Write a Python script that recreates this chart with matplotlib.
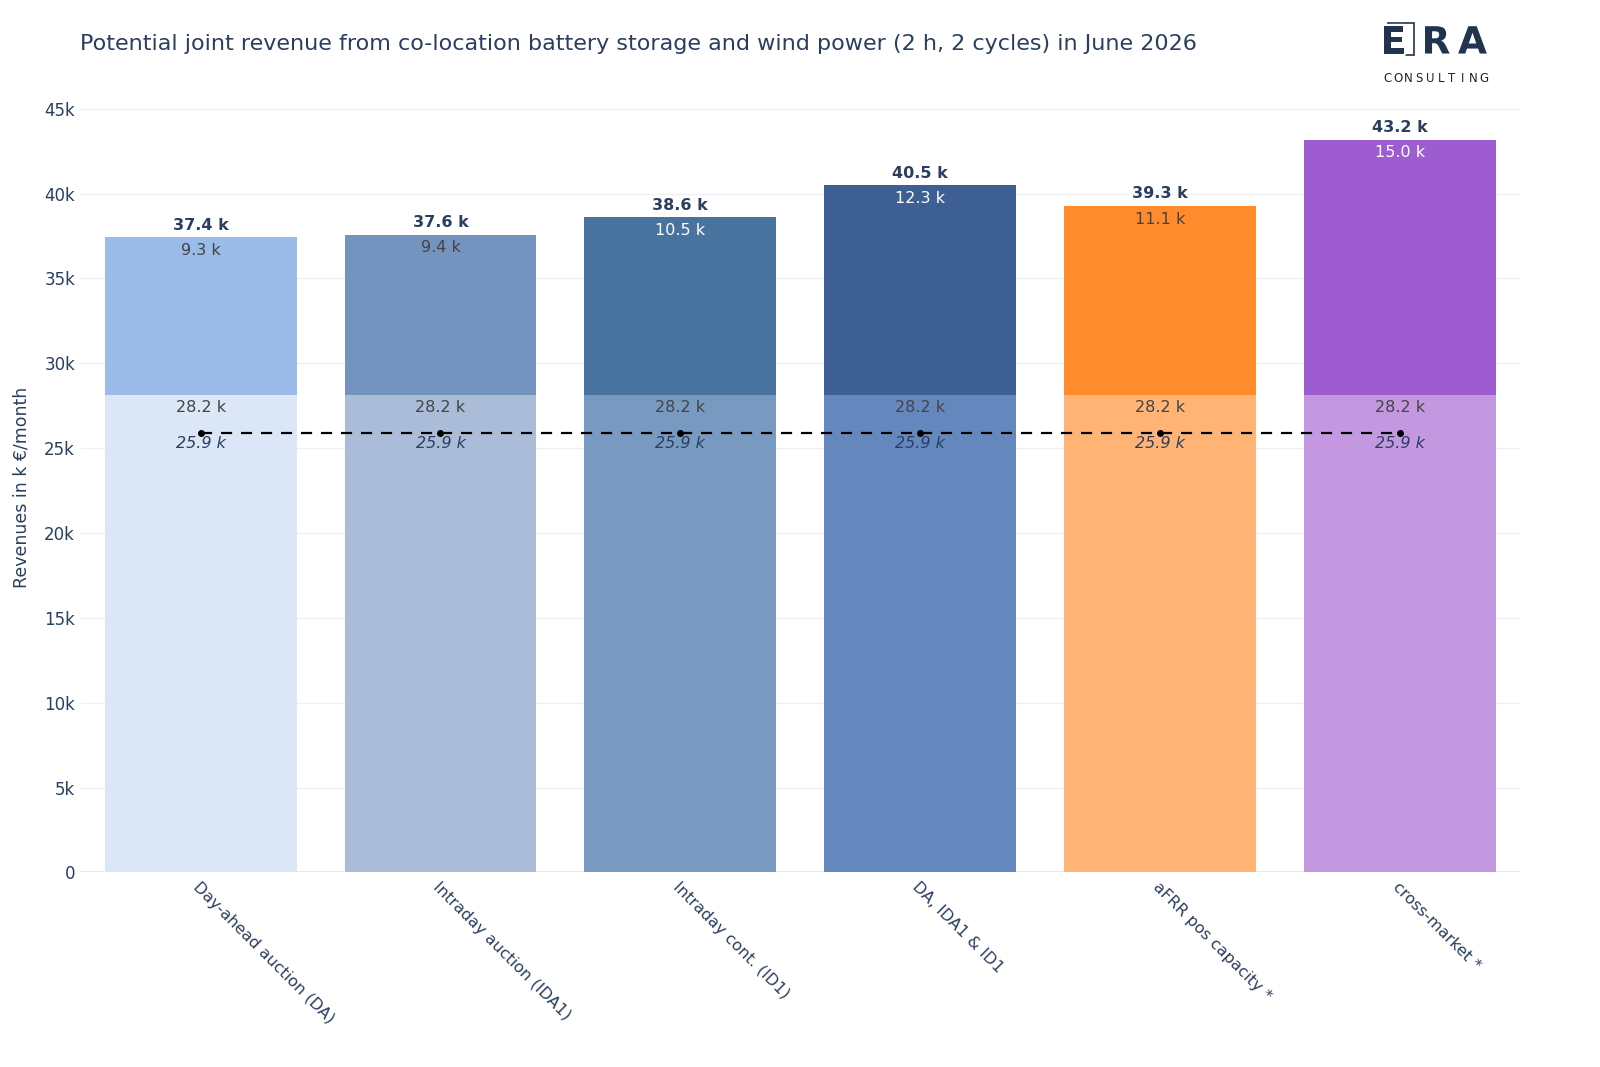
import matplotlib.pyplot as plt
import matplotlib.patheffects as pe
from matplotlib.patches import Rectangle

categories = ["Day-ahead auction (DA)", "Intraday auction (IDA1)", "Intraday cont. (ID1)",
              "DA, IDA1 & ID1", "aFRR pos capacity *", "cross-market *"]
wind = [28.16, 28.16, 28.16, 28.16, 28.16, 28.16]
battery = [9.27, 9.43, 10.47, 12.33, 11.13, 15.03]
baseline = 25.88

col_bottom = ["#dbe6f7", "#aabcd8", "#789ac0", "#6487bd", "#ffb375", "#c398e1"]
col_top = ["#9bbbe8", "#7493bf", "#48739f", "#3e5f93", "#ff8b2c", "#9d5dd1"]
lbl_top = ["#444444", "#444444", "white", "white", "#444444", "white"]
navy = "#2a3f5f"

plt.rcParams['font.family'] = ['DejaVu Sans']
fig = plt.figure(figsize=(16, 10.67), dpi=100)
ax = fig.add_axes([0.0504, 0.1824, 0.8996, 0.722])

x = list(range(len(categories)))
ax.bar(x, wind, width=0.8, color=col_bottom, zorder=2)
ax.bar(x, battery, width=0.8, bottom=wind, color=col_top, zorder=2)
ax.plot(x, [baseline] * len(x), color="black", ls=(0, (5, 4)), lw=1.6, marker="o", ms=4, zorder=3)

for i in x:
    tot = wind[i] + battery[i]
    ax.text(i, tot + 0.25, "{0:.1f} k".format(tot), ha="center", va="bottom", fontsize=11.5,
            fontweight="bold", color=navy, zorder=4)
    ax.text(i, tot - 0.35, "{0:.1f} k".format(battery[i]), ha="center", va="top", fontsize=11.5,
            color=lbl_top[i], zorder=4)
    ax.text(i, wind[i] - 0.35, "{0:.1f} k".format(wind[i]), ha="center", va="top", fontsize=11.5,
            color="#444444", zorder=4)
    ax.text(i, baseline - 0.15, "{0:.1f} k".format(baseline), ha="center", va="top", fontsize=11.5,
            style="italic", color=navy, zorder=4)

ax.set_xlim(-0.5, 5.5)
ax.set_ylim(0, 45.4)
yt = list(range(0, 46, 5))
ax.set_yticks(yt)
ax.set_yticklabels(["0" if v == 0 else "{0}k".format(v) for v in yt], fontsize=12, color=navy)
ax.set_xticks(x)
ax.set_xticklabels(categories, rotation=-45, ha="left", va="top", rotation_mode="anchor",
                   fontsize=11.5, color=navy)
ax.tick_params(axis="both", length=0)
ax.tick_params(axis="y", pad=4)
ax.tick_params(axis="x", pad=5)
ax.grid(axis="y", color="#eef0f5", lw=1, zorder=0)
ax.axhline(0, color="#e3e7ef", lw=1.5, zorder=1)
for s in ax.spines.values():
    s.set_visible(False)
ax.set_ylabel("Revenues in k €/month", fontsize=12.5, color=navy, labelpad=10)

fig.text(0.05, 0.959, "Potential joint revenue from co-location battery storage and wind power (2 h, 2 cycles) in June 2026",
         fontsize=16, color=navy, ha="left", va="center")

# logo
fig.patches.append(Rectangle((0.8675, 0.9485), 0.01625, 0.030, transform=fig.transFigure,
                             fill=False, ec="#22334f", lw=1.2, zorder=1))
for letter, lx in zip("ERA", [1393.5, 1436, 1472.5]):
    fig.text(lx / 1600, 0.9592, letter, fontsize=27, fontweight="bold", color="#22334f",
             ha="center", va="center", zorder=2,
             path_effects=[pe.withStroke(linewidth=3, foreground="white")])
for k, letter in enumerate("CONSULTING"):
    fig.text((1387 + k * 10.8) / 1600, 0.9264, letter, fontsize=8.5, color="#222222",
             ha="center", va="center")

fig.savefig("out.png", dpi=100, facecolor="white")
